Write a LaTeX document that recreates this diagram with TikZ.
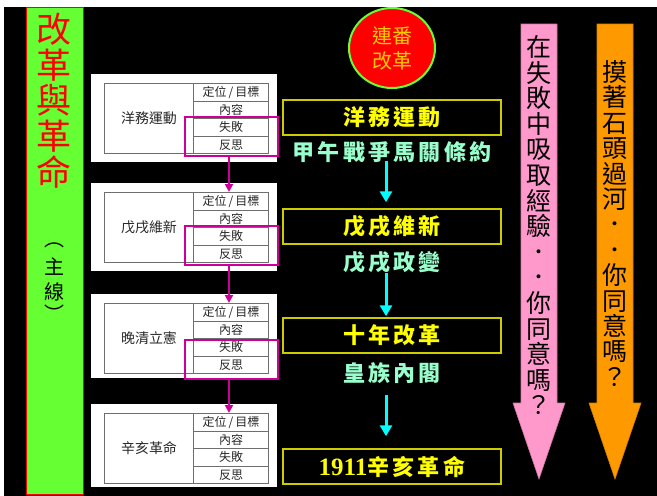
\documentclass[tikz,border=0pt]{standalone}
\usepackage{fontspec}
\setmainfont{Noto Sans CJK TC}
\newfontfamily\cjk{Noto Sans CJK TC}
\newfontfamily\cjkwide{Noto Sans CJK TC}[LetterSpace=15]
\newfontfamily\numfont{Liberation Serif}
\usetikzlibrary{arrows.meta,shapes.geometric}
\definecolor{bargreen}{RGB}{102,255,51}
\definecolor{magbox}{RGB}{204,0,153}
\definecolor{boxyellow}{RGB}{204,204,0}
\definecolor{txtyellow}{RGB}{255,255,0}
\definecolor{mint}{RGB}{153,255,204}
\definecolor{arrowpink}{RGB}{255,153,204}
\definecolor{arroworange}{RGB}{255,153,0}
\definecolor{circtext}{RGB}{255,204,0}
\definecolor{tblline}{RGB}{110,110,110}
\definecolor{tbltext}{RGB}{40,40,40}
\definecolor{brightcyan}{RGB}{0,255,255}
\newcommand\mypanel[4]{%
  \fill[white] (91,#2-9.5) rectangle (277,#2+#4);
  \node[tblcell, minimum width=89pt, minimum height=70pt, anchor=north west, font=\fontsize{14}{14}\selectfont] (#1-l) at (104,#2) {#3};
  \node[tblcell, anchor=north west] (#1-a) at (193,#2) {定位\,/\,目標};
  \node[tblcell, anchor=north west] (#1-b) at (193,#2+17.5) {內容};
  \node[tblcell, anchor=north west] (#1-c) at (193,#2+35) {失敗};
  \node[tblcell, anchor=north west] (#1-d) at (193,#2+52.5) {反思};
}
\begin{document}
\begin{tikzpicture}[x=1pt,y=-1pt,
  tblcell/.style={draw=tblline, line width=1pt, minimum width=75pt, minimum height=17.5pt, inner sep=0pt, text=tbltext, font=\fontsize{12}{12}\selectfont},
  magframe/.style={draw=magbox, line width=2pt, minimum width=93pt, minimum height=39pt, inner sep=0pt, anchor=north west},
  magarrow/.style={draw=magbox, line width=2pt, -{Triangle[width=8pt,length=8pt]}},
  ybox/.style={draw=boxyellow, line width=1.5pt, minimum width=218pt, minimum height=35pt, inner sep=0pt, text=txtyellow, font=\cjkwide\bfseries\fontsize{22}{22}\selectfont},
  mintlabel/.style={inner sep=0pt, text=mint, font=\cjkwide\bfseries\fontsize{22}{22}\selectfont},
  cyanarrow/.style={draw=brightcyan, line width=3pt, -{Triangle[width=12pt,length=11pt]}},
  titlechar/.style={inner sep=0pt, text=red, font=\fontsize{35}{35}\selectfont},
  subchar/.style={inner sep=0pt, text=black, font=\fontsize{20}{20}\selectfont},
  vtext/.style={inner sep=0pt, anchor=base, text=black, font=\fontsize{25}{25}\selectfont}]
\useasboundingbox (0,0) rectangle (657,496);
\fill[white] (0,0) rectangle (657,496);
\fill[black] (4,7) rectangle (657,496);
% left bar
\node[draw=red, fill=bargreen, line width=1pt, minimum width=57pt, minimum height=487pt, inner sep=0pt, anchor=north west] (bar) at (26,7) {};
\foreach \c [count=\i from 0] in {改,革,與,革,命}
  \node[titlechar] (t\i) at (54,29+35.75*\i) {\c};
\node[subchar] (s0) at (54,245) {︵};
\node[subchar] (s1) at (54,267) {主};
\node[subchar] (s2) at (54,292) {線};
\node[subchar] (s3) at (54,313) {︶};
% panels
\mypanel{p1}{83}{洋務運動}{79}
\mypanel{p2}{192}{戊戌維新}{79}
\mypanel{p3}{303}{晚清立憲}{75}
\mypanel{p4}{413}{辛亥革命}{74}
\node[magframe] (p1-m) at (184,116) {};
\node[magframe] (p2-m) at (184,225) {};
\node[magframe] (p3-m) at (184,339) {};
\draw[magarrow] ([xshift=-2.5pt]p1-m.south) -- ([xshift=-2.5pt]p1-m.south |- p2-a.north);
\draw[magarrow] ([xshift=-2.5pt]p2-m.south) -- ([xshift=-2.5pt]p2-m.south |- p3-a.north);
\draw[magarrow] ([xshift=-2.5pt]p3-m.south) -- ([xshift=-2.5pt]p3-m.south |- p4-a.north);
% circle
\node[ellipse, fill=red, draw=bargreen, line width=2pt, minimum width=86pt, minimum height=80pt, inner sep=0pt, text=circtext, align=center, font=\fontsize{20}{25}\selectfont] (circ) at (392,48) {連番\\改革};
% middle column
\node[ybox] (m1) at (392,117.5) {洋務運動};
\node[ybox] (m2) at (392,226.5) {戊戌維新};
\node[ybox] (m3) at (392,335.5) {十年改革};
\node[ybox] (m4) at (392,466.5) {{\numfont\fontsize{25}{25}\selectfont 1911}辛亥革命};
\node[mintlabel] (l1) at (392,152) {甲午戰爭馬關條約};
\node[mintlabel] (l2) at (392,262) {戊戌政變};
\node[mintlabel] (l3) at (392,373) {皇族內閣};
\draw[cyanarrow, shorten <=-2pt, shorten >=6pt] ([xshift=-6pt]l1.south) -- ([xshift=-6pt]l1.south |- m2.north);
\draw[cyanarrow, shorten <=0pt, shorten >=1pt] ([xshift=-6pt]l2.south) -- ([xshift=-6pt]l2.south |- m3.north);
\draw[cyanarrow, shorten <=11pt, shorten >=12pt] ([xshift=-6pt]l3.south) -- ([xshift=-6pt]l3.south |- m4.north);
% right arrows
\filldraw[fill=arrowpink, draw=arrowpink!80!black, line width=0.6pt] (521,24) -- (557,24) -- (557,403) -- (565,403) -- (539,479) -- (513,403) -- (521,403) -- cycle;
\filldraw[fill=arroworange, draw=arroworange!85!black, line width=0.6pt] (597,24) -- (633,24) -- (633,403) -- (641,403) -- (615,479) -- (589,403) -- (597,403) -- cycle;
\foreach \c [count=\i from 0] in {在,失,敗,中,吸,取,經,驗,．,．,你,同,意,嗎,？}
  \node[vtext] (pk\i) at (539,56.5+25.6*\i) {\c};
\foreach \c [count=\i from 0] in {摸,著,石,頭,過,河,．,．,你,同,意,嗎,？}
  \node[vtext] (or\i) at (615,81.5+25.4*\i) {\c};
\end{tikzpicture}
\end{document}
